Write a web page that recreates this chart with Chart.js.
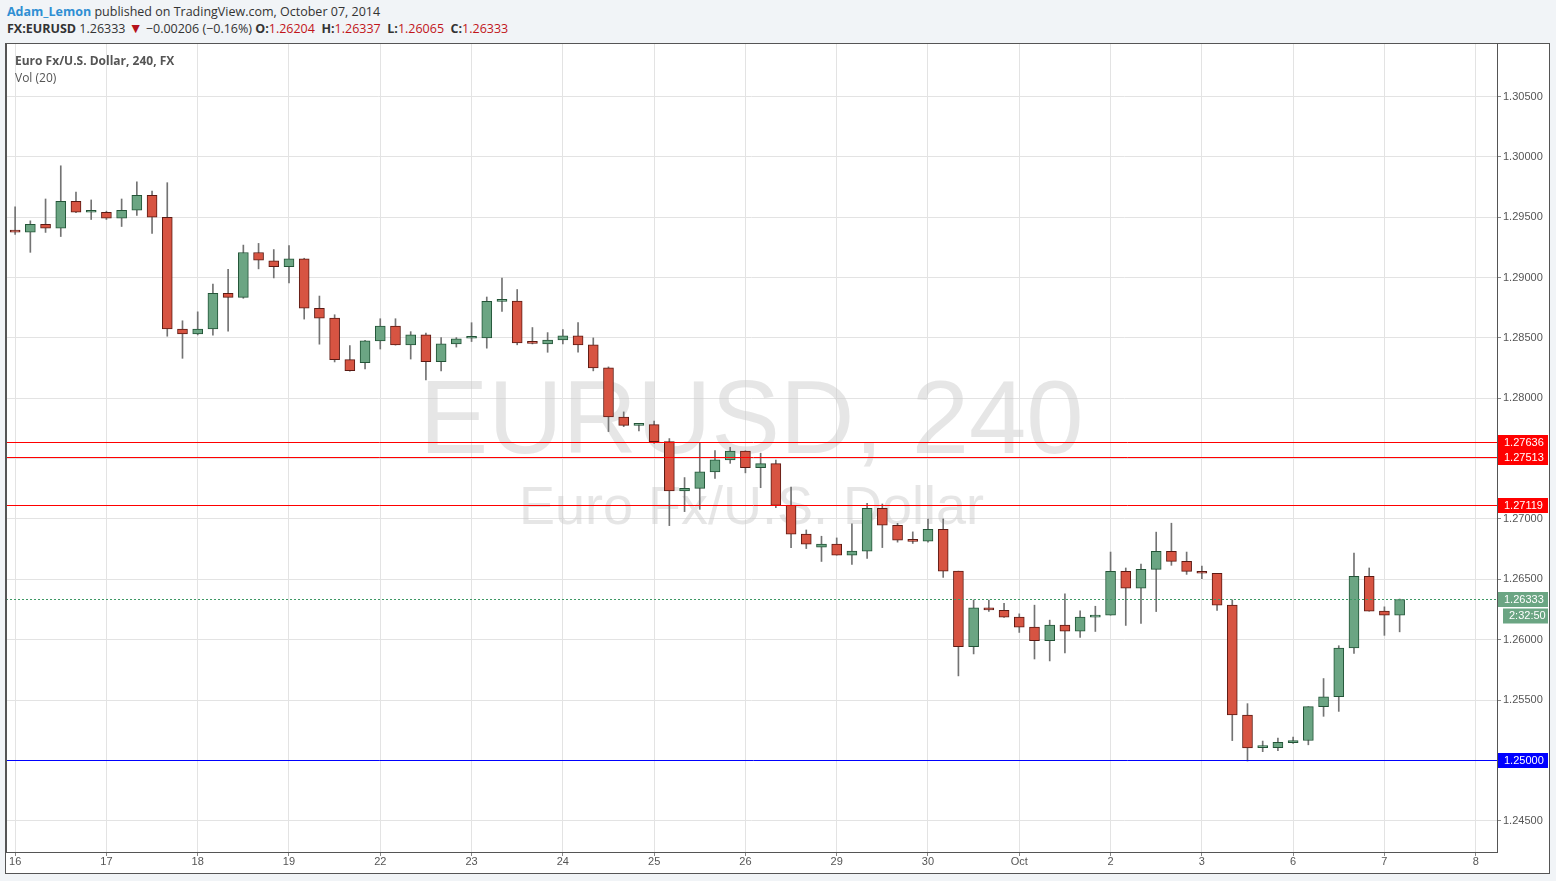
<!DOCTYPE html>
<html>
<head>
<meta charset="utf-8">
<script src="https://cdn.jsdelivr.net/npm/chart.js@4.4.0/dist/chart.umd.min.js"></script>
<style>
  body { margin: 0; background: #f1f4f7; font-family: "Open Sans", "Noto Sans", sans-serif; }
  #hdr1 { position: absolute; left: 7px; top: 3px; font-size: 12.5px; color: #333; white-space: nowrap; }
  #hdr1 b { color: #2f8fd3; }
  #hdr2 { position: absolute; left: 7px; top: 20px; font-size: 12.5px; color: #333; white-space: nowrap; }
  #hdr2 .r { color: #c1141a; }
  #hdr2 .tri { color: #b5121b; font-size: 14px; line-height: 12px; }
  #box { position: absolute; left: 5px; top: 43px; width: 1545px; height: 831px; background: #fff; }
  #title { position: absolute; left: 15px; top: 52px; font-size: 12px; color: #555; line-height: 17px; }
</style>
</head>
<body>
<div id="hdr1"><b>Adam_Lemon</b> published on TradingView.com, October 07, 2014</div>
<div id="hdr2"><b>FX:EURUSD</b> 1.26333 <span class="tri">&#9660;</span> &minus;0.00206 (&minus;0.16%) <b>O:</b><span class="r">1.26204</span> &nbsp;<b>H:</b><span class="r">1.26337</span> &nbsp;<b>L:</b><span class="r">1.26065</span> &nbsp;<b>C:</b><span class="r">1.26333</span></div>
<div id="box"><canvas id="chart"></canvas></div>
<div id="title"><b>Euro Fx/U.S. Dollar, 240, FX</b><br>Vol (20)</div>
<script>
// EURUSD 4h candles, Sep 16 - Oct 7 2014 (6 candles per day)
const opens = [
  1.29393, 1.29376, 1.29442, 1.29409, 1.29632, 1.29541,
  1.29541, 1.29492, 1.29558, 1.29682, 1.29500, 1.28574,
  1.28533, 1.28574, 1.28869, 1.28836, 1.29208, 1.29139,
  1.29090, 1.29156, 1.28746, 1.28664, 1.28320, 1.28295,
  1.28476, 1.28599, 1.28443, 1.28525, 1.28304, 1.28451,
  1.28497, 1.28500, 1.28803, 1.28805, 1.28462, 1.28450,
  1.28483, 1.28517, 1.28442, 1.28252, 1.27845, 1.27776,
  1.27782, 1.27641, 1.27232, 1.27254, 1.27390, 1.27489,
  1.27563, 1.27426, 1.27459, 1.27113, 1.26874, 1.26766,
  1.26791, 1.26700, 1.26733, 1.27088, 1.26948, 1.26822,
  1.26816, 1.26915, 1.26568, 1.25942, 1.26263, 1.26244,
  1.26187, 1.26104, 1.25992, 1.26120, 1.26071, 1.26187,
  1.26203, 1.26566, 1.26426, 1.26583, 1.26731, 1.26649,
  1.26566, 1.26550, 1.26286, 1.25376, 1.25106, 1.25106,
  1.25146, 1.25165, 1.25445, 1.25527, 1.25931, 1.26525,
  1.26236, 1.26204
];
const highs = [
  1.29585, 1.29470, 1.29651, 1.29926, 1.29709, 1.29643,
  1.29550, 1.29651, 1.29794, 1.29717, 1.29786, 1.28642,
  1.28716, 1.28945, 1.29069, 1.29269, 1.29283, 1.29232,
  1.29265, 1.29160, 1.28847, 1.28692, 1.28437, 1.28480,
  1.28659, 1.28659, 1.28552, 1.28541, 1.28503, 1.28503,
  1.28626, 1.28839, 1.28995, 1.28901, 1.28586, 1.28544,
  1.28569, 1.28627, 1.28500, 1.28260, 1.27887, 1.27782,
  1.27810, 1.27666, 1.27343, 1.27630, 1.27566, 1.27594,
  1.27565, 1.27545, 1.27487, 1.27264, 1.26909, 1.26857,
  1.26843, 1.26959, 1.27129, 1.27124, 1.26964, 1.26893,
  1.27000, 1.27000, 1.26568, 1.26329, 1.26329, 1.26302,
  1.26214, 1.26286, 1.26162, 1.26379, 1.26239, 1.26277,
  1.26726, 1.26594, 1.26627, 1.26891, 1.26965, 1.26726,
  1.26610, 1.26550, 1.26330, 1.25470, 1.25160, 1.25184,
  1.25193, 1.25445, 1.25678, 1.25950, 1.26717, 1.26594,
  1.26272, 1.26337
];
const lows = [
  1.29357, 1.29209, 1.29374, 1.29340, 1.29538, 1.29481,
  1.29481, 1.29423, 1.29514, 1.29365, 1.28514, 1.28331,
  1.28525, 1.28522, 1.28555, 1.28828, 1.29072, 1.28997,
  1.28956, 1.28656, 1.28448, 1.28301, 1.28225, 1.28243,
  1.28408, 1.28440, 1.28325, 1.28153, 1.28227, 1.28424,
  1.28470, 1.28415, 1.28719, 1.28443, 1.28450, 1.28381,
  1.28450, 1.28381, 1.28227, 1.27724, 1.27765, 1.27730,
  1.27625, 1.26945, 1.27061, 1.27080, 1.27337, 1.27461,
  1.27382, 1.27259, 1.27094, 1.26763, 1.26755, 1.26648,
  1.26700, 1.26623, 1.26673, 1.26763, 1.26808, 1.26797,
  1.26808, 1.26516, 1.25700, 1.25882, 1.26235, 1.26185,
  1.26060, 1.25840, 1.25824, 1.25890, 1.26019, 1.26068,
  1.26203, 1.26118, 1.26134, 1.26233, 1.26616, 1.26541,
  1.26506, 1.26242, 1.25164, 1.24995, 1.25072, 1.25080,
  1.25140, 1.25129, 1.25365, 1.25406, 1.25887, 1.26236,
  1.26036, 1.26065
];
const closes = [
  1.29376, 1.29442, 1.29409, 1.29632, 1.29541, 1.29545,
  1.29492, 1.29558, 1.29682, 1.29500, 1.28574, 1.28533,
  1.28574, 1.28869, 1.28836, 1.29208, 1.29144, 1.29090,
  1.29156, 1.28746, 1.28664, 1.28320, 1.28229, 1.28476,
  1.28599, 1.28443, 1.28525, 1.28304, 1.28451, 1.28492,
  1.28500, 1.28803, 1.28805, 1.28459, 1.28455, 1.28483,
  1.28517, 1.28442, 1.28252, 1.27845, 1.27776, 1.27782,
  1.27641, 1.27232, 1.27254, 1.27390, 1.27489, 1.27563,
  1.27426, 1.27459, 1.27113, 1.26874, 1.26791, 1.26791,
  1.26700, 1.26733, 1.27088, 1.26948, 1.26824, 1.26815,
  1.26915, 1.26568, 1.25942, 1.26263, 1.26246, 1.26187,
  1.26104, 1.25992, 1.26120, 1.26071, 1.26187, 1.26203,
  1.26566, 1.26426, 1.26583, 1.26731, 1.26649, 1.26566,
  1.26550, 1.26286, 1.25376, 1.25104, 1.25117, 1.25149,
  1.25165, 1.25445, 1.25527, 1.25931, 1.26525, 1.26236,
  1.26204, 1.26333
];

// day labels sit on every 6th candle slot
const dayLabels = ['16', '17', '18', '19', '22', '23', '24', '25', '26', '29', '30', 'Oct', '2', '3', '6', '7', '8'];
const yTicks = [1.245, 1.250, 1.255, 1.260, 1.265, 1.270, 1.275, 1.280, 1.285, 1.290, 1.295, 1.300, 1.305];

// drawn levels on the right axis
const levelValues = [1.27636, 1.27513, 1.27119, 1.25000];
const levelColors = ['#ff0000', '#ff0000', '#ff0000', '#0000ff'];
const lastPrice = 1.26333;
const countdown = '2:32:50';

const up = '#6ba583', upLine = '#225437';
const down = '#d75442', downLine = '#5b1a13';

const isUp = opens.map((o, i) => closes[i] >= o);

// watermark + frame, drawn behind candles
const backdrop = {
  id: 'backdrop',
  beforeDatasetsDraw(chart) {
    const { ctx, chartArea: a } = chart;
    const cx = (a.left + a.right) / 2;
    ctx.save();
    ctx.fillStyle = 'rgba(200,200,200,0.45)';
    ctx.textAlign = 'center';
    ctx.textBaseline = 'alphabetic';
    ctx.font = '103px "Liberation Sans", Arial, sans-serif';
    ctx.fillText('EURUSD, 240', cx, 410);
    ctx.font = '54px "Liberation Sans", Arial, sans-serif';
    ctx.fillText('Euro Fx/U.S. Dollar', cx, 481);
    ctx.restore();
  },
  afterDraw(chart) {
    const { ctx, chartArea: a, scales: { y } } = chart;
    ctx.save();
    // levels
    levelValues.forEach((v, i) => {
      const py = Math.round(y.getPixelForValue(v)) + 0.5;
      ctx.strokeStyle = levelColors[i];
      ctx.lineWidth = 1;
      ctx.beginPath();
      ctx.moveTo(a.left, py);
      ctx.lineTo(a.right + 4, py);
      ctx.stroke();
    });
    // last price dotted line
    const ly = Math.round(y.getPixelForValue(lastPrice)) + 0.5;
    ctx.strokeStyle = '#3f9966';
    ctx.setLineDash([2, 2]);
    ctx.beginPath();
    ctx.moveTo(a.left, ly);
    ctx.lineTo(a.right, ly);
    ctx.stroke();
    ctx.setLineDash([]);
    // axis labels in boxes
    ctx.font = '11px "Liberation Sans", Arial, sans-serif';
    ctx.textBaseline = 'middle';
    ctx.textAlign = 'left';
    const box = (txt, py, bg, x0, w) => {
      ctx.fillStyle = bg;
      ctx.fillRect(x0, py - 7, w, 15);
      ctx.fillStyle = '#fff';
      ctx.fillText(txt, x0 + 6, py + 0.5);
    };
    levelValues.forEach((v, i) => {
      box(v.toFixed(5), Math.round(y.getPixelForValue(v)), levelColors[i], a.right + 1, 50);
    });
    box(lastPrice.toFixed(5), ly - 0.5, up, a.right + 1, 50);
    box(countdown, ly + 16, up, a.right + 6, 45);
    // frame
    ctx.strokeStyle = '#555';
    ctx.lineWidth = 1;
    ctx.strokeRect(0.5, 0.5, chart.width - 1, chart.height - 1);
    ctx.beginPath();
    ctx.moveTo(a.left + 0.5, a.top);
    ctx.lineTo(a.left + 0.5, a.bottom);
    ctx.moveTo(a.right + 0.5, a.top);
    ctx.lineTo(a.right + 0.5, a.bottom);
    ctx.stroke();
    ctx.restore();
  }
};

const ctx = document.getElementById('chart').getContext('2d');
new Chart(ctx, {
  type: 'bar',
  data: {
    datasets: [
      {
        label: 'body',
        data: opens.map((o, i) => ({ x: i, y: [o, closes[i]] })),
        backgroundColor: isUp.map(u => (u ? up : down)),
        borderColor: isUp.map(u => (u ? upLine : downLine)),
        borderWidth: 1,
        borderSkipped: false,
        barThickness: 10,
        minBarLength: 2,
        grouped: false,
        order: 1
      },
      {
        label: 'wick',
        data: highs.map((h, i) => ({ x: i, y: [lows[i], h] })),
        backgroundColor: '#737373',
        barThickness: 1,
        grouped: false,
        order: 2
      }
    ]
  },
  options: {
    responsive: true,
    maintainAspectRatio: false,
    animation: false,
    layout: { padding: { left: 1, top: 1, right: 0, bottom: 0 } },
    plugins: { legend: { display: false }, tooltip: { enabled: false } },
    scales: {
      x: {
        type: 'linear',
        offset: false,
        min: -0.6,
        max: 97.4,
        afterBuildTicks: s => { s.ticks = dayLabels.map((d, i) => ({ value: i * 6 })); },
        afterFit: s => { s.height = 22; s.paddingLeft = 0; s.paddingRight = 0; },
        ticks: {
          autoSkip: false,
          maxRotation: 0,
          padding: -1,
          color: '#555',
          font: { family: '"Liberation Sans", Arial, sans-serif', size: 11 },
          callback: (v, i) => dayLabels[i]
        },
        grid: { offset: false, color: '#e3e3e3', tickColor: '#888', tickLength: 4 },
        border: { color: '#555' }
      },
      y: {
        type: 'linear',
        position: 'right',
        min: 1.24241,
        max: 1.30935,
        afterBuildTicks: s => { s.ticks = yTicks.map(v => ({ value: v })); },
        afterFit: s => { s.width = 53; s.paddingTop = 0; s.paddingBottom = 0; },
        ticks: {
          padding: 2,
          color: '#555',
          font: { family: '"Liberation Sans", Arial, sans-serif', size: 11 },
          callback: v => v.toFixed(5)
        },
        grid: { color: '#e3e3e3', tickColor: '#888', tickLength: 4 },
        border: { color: '#555' }
      }
    }
  },
  plugins: [backdrop]
});
</script>
</body>
</html>
